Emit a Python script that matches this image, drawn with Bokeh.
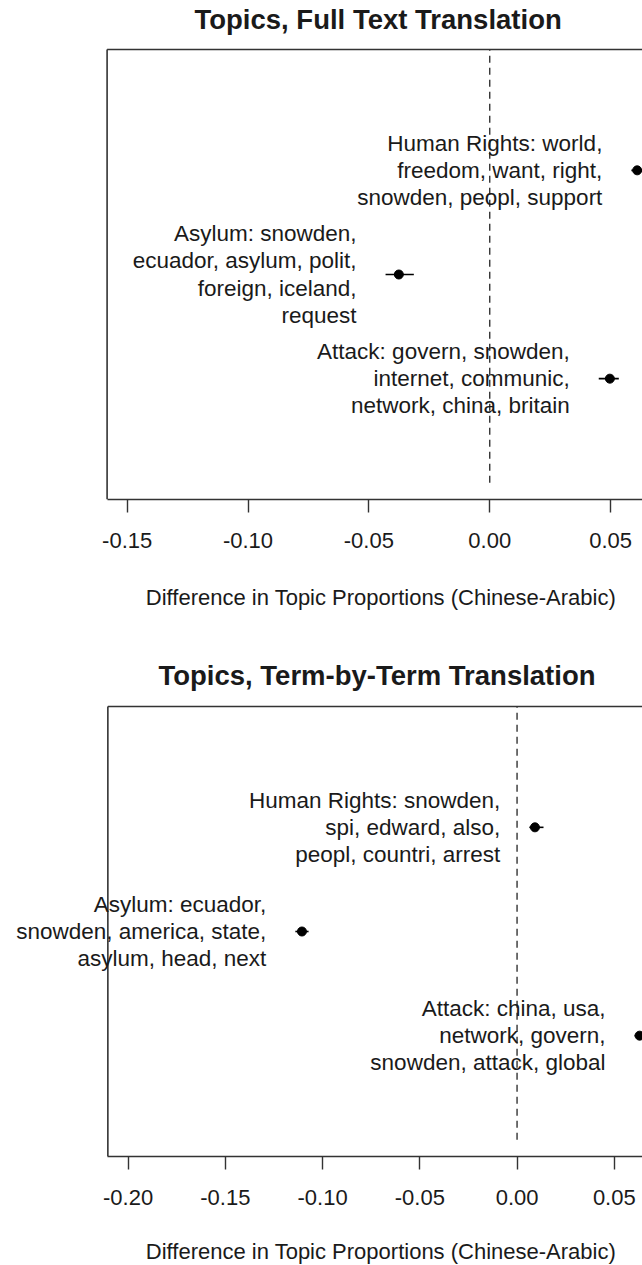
from bokeh.plotting import figure
from bokeh.models import (ColumnDataSource, LabelSet, FixedTicker, PrintfTickFormatter,
                          Range1d, Title)
from bokeh.layouts import column
from bokeh.core.properties import value
from bokeh.embed import file_html
from bokeh.resources import INLINE

# ---------------- data ----------------
topics = ["Human Rights", "Asylum", "Attack"]
y_pos = [3, 2, 1]

full_labels = [
    ["Human Rights: world,", "freedom, want, right,", "snowden, peopl, support"],
    ["Asylum: snowden,", "ecuador, asylum, polit,", "foreign, iceland,", "request"],
    ["Attack: govern, snowden,", "internet, communic,", "network, china, britain"],
]
full_est = [0.0610, -0.0376, 0.0497]
full_lo = [0.0586, -0.0431, 0.0451]
full_hi = [0.0634, -0.0314, 0.0534]

term_labels = [
    ["Human Rights: snowden,", "spi, edward, also,", "peopl, countri, arrest"],
    ["Asylum: ecuador,", "snowden, america, state,", "asylum, head, next"],
    ["Attack: china, usa,", "network, govern,", "snowden, attack, global"],
]
term_est = [0.0092, -0.1106, 0.0630]
term_lo = [0.0063, -0.1140, 0.0604]
term_hi = [0.0136, -0.1072, 0.0656]

full_ticks = [-0.15, -0.10, -0.05, 0.00, 0.05]
term_ticks = [-0.20, -0.15, -0.10, -0.05, 0.00, 0.05]
panel_titles = ["Topics, Full Text Translation", "Topics, Term-by-Term Translation"]
x_title = "Difference in Topic Proportions (Chinese-Arabic)"
ref_line_x = 0.0

# plot limits (box) and visible window of each panel
full_box_left, full_view = -0.1583, (-0.2024, 0.0632)
term_box_left, term_view = -0.2104, (-0.2656, 0.0645)

# ---------------- layout ----------------
FONT = "Liberation Sans"
TXT = "#1a1a1a"
LINE = "#333333"
W = 642
BOX_H = 450
Y0, Y1 = -0.16, 4.16
PX_Y = BOX_H / (Y1 - Y0)
LINE_H = 27.3
FS = "22.5px"
TITLE_CX = 380.5


def panel(title, title_offset, labels, est, lo, hi, ticks, box_left, xr,
          height, b_top, b_bottom):
    headroom = (height - b_top - b_bottom) - BOX_H
    p = figure(width=W, height=height, x_range=Range1d(*xr),
               y_range=Range1d(Y0, Y1 + headroom / PX_Y), y_axis_location=None,
               output_backend="svg", toolbar_location=None,
               min_border_left=0, min_border_right=0, min_border_top=b_top,
               min_border_bottom=b_bottom)
    p.outline_line_color = None
    p.grid.visible = False
    p.background_fill_color = "white"
    p.border_fill_color = "white"

    ax = p.xaxis[0]
    ax.bounds = (box_left, xr[1])
    ax.ticker = FixedTicker(ticks=ticks)
    ax.formatter = PrintfTickFormatter(format="%.2f")
    ax.major_tick_out = 13
    ax.major_tick_in = 0
    ax.minor_tick_out = 0
    ax.minor_tick_in = 0
    ax.major_label_standoff = 20
    ax.major_label_text_font = FONT
    ax.major_label_text_font_size = "22px"
    ax.major_label_text_color = TXT
    ax.axis_line_width = 1.6
    ax.axis_line_color = LINE
    ax.major_tick_line_width = 1.4
    ax.major_tick_line_color = LINE

    # box: left and top borders
    p.segment(x0=[box_left, box_left], y0=[Y0, Y1], x1=[box_left, xr[1]], y1=[Y1, Y1],
              line_width=1.6, line_color=LINE)

    # reference line at zero
    p.segment(x0=[ref_line_x], y0=[0], x1=[ref_line_x], y1=[Y1],
              line_dash="7 5", line_width=1.4, line_color=LINE)

    src = ColumnDataSource(dict(y=y_pos, est=est, lo=lo, hi=hi))
    p.segment(x0="lo", y0="y", x1="hi", y1="y", source=src, line_width=1.6, line_color="black")
    p.scatter(x="est", y="y", source=src, size=9, color="black")

    xs, ys, texts = [], [], []
    for i, lines in enumerate(labels):
        n = len(lines)
        for j, t in enumerate(lines):
            xs.append(lo[i])
            ys.append(y_pos[i] + ((n - 1) / 2 - j) * LINE_H / PX_Y)
            texts.append(t)
    lsrc = ColumnDataSource(dict(x=xs, y=ys, text=texts))
    p.add_layout(LabelSet(x="x", y="y", text="text", source=lsrc, x_offset=-29,
                          text_align="right", text_baseline="middle",
                          text_font=value(FONT), text_font_size=FS, text_color=TXT))

    p.add_layout(Title(text=title, align="left", offset=title_offset, standoff=2,
                       text_font=FONT, text_font_size="27.5px", text_font_style="bold",
                       text_color=TXT), "above")
    return p


def axis_title_strip(height, center_from_top):
    s = figure(width=W, height=height, x_range=Range1d(0, W), y_range=Range1d(0, height),
               x_axis_location=None, y_axis_location=None,
               output_backend="svg", toolbar_location=None,
               min_border_left=0, min_border_right=0, min_border_top=0, min_border_bottom=0)
    s.outline_line_color = None
    s.grid.visible = False
    s.background_fill_color = "white"
    s.border_fill_color = "white"
    s.text(x=[TITLE_CX], y=[height - center_from_top], text=[x_title],
           text_align="center", text_baseline="middle",
           text_font=value(FONT), text_font_size="22px", text_color=TXT)
    return s


p1 = panel(panel_titles[0], 194, full_labels, full_est, full_lo, full_hi, full_ticks,
           full_box_left, full_view, 559, 35, 60)
s1 = axis_title_strip(91, 38)
p2 = panel(panel_titles[1], 158, term_labels, term_est, term_lo, term_hi, term_ticks,
           term_box_left, term_view, 566, 41, 60)
s2 = axis_title_strip(49, 35)

layout = column(p1, s1, p2, s2, spacing=0)
open("out.html", "w").write(file_html(layout, INLINE))
